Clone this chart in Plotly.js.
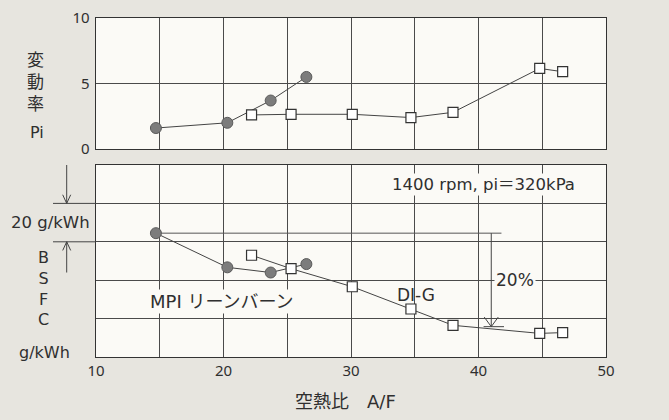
<!DOCTYPE html>
<html>
<head>
<meta charset="utf-8">
<script src="https://cdn.plot.ly/plotly-3.0.1.min.js"></script>
<style>
html,body{margin:0;padding:0;background:#e7e5df;}
#chart{width:669px;height:420px;}
</style>
</head>
<body>
<div id="chart"></div>
<script>
// ---- data ----
const afMpi   = [14.7, 20.3, 23.7, 26.5];
const piMpi   = [1.6, 2.0, 3.7, 5.5];
const bsfcMpi = [64.5, 46.7, 44.0, 48.4];

const afDig   = [22.2, 25.3, 30.1, 34.7, 38.0, 44.8, 46.6];
const piDig   = [2.6, 2.65, 2.65, 2.4, 2.8, 6.15, 5.9];
const bsfcDig = [53.0, 46.0, 36.6, 25.0, 16.5, 12.3, 12.7];

const piTicks  = [0, 5, 10];
const refEndAf = 41.8;   // end of the 20% reference line
const arrowAf  = 41.0;   // x of the 20% arrow
const arrowEnd = 15.8;   // BSFC level where the 20% arrow ends

// ---- layout helpers (pixel -> paper) ----
const W = 669, H = 420, L = 96, R = 63, T = 18, B = 63;
const PW = W - L - R, PH = H - T - B;
const px = x => (x - L) / PW;
const py = y => (H - B - y) / PH;

const txt = '#2f2f2f', grid = '#4a4a4a', plotBg = '#fbfaf6', paperBg = '#e7e5df';
const FONT = '"DejaVu Sans", "Noto Sans CJK JP", sans-serif';
const TICKFONT = '"Noto Sans", "DejaVu Sans", sans-serif';

const lineStyle = {color: '#444', width: 1};
const circ = {symbol: 'circle', size: 11, color: '#7c7c7c', line: {color: '#5a5a5a', width: 1}};
const sq = {symbol: 'square', size: 10, color: '#ffffff', line: {color: '#333', width: 1.2}};

const traces = [
  {x: afMpi, y: piMpi, xaxis: 'x2', yaxis: 'y2', mode: 'lines+markers', line: lineStyle, marker: circ},
  {x: afDig, y: piDig, xaxis: 'x2', yaxis: 'y2', mode: 'lines+markers', line: lineStyle, marker: sq},
  {x: [afMpi[0], refEndAf], y: [bsfcMpi[0], bsfcMpi[0]], xaxis: 'x', yaxis: 'y', mode: 'lines', line: {color: '#555', width: 1}},
  {x: afMpi, y: bsfcMpi, xaxis: 'x', yaxis: 'y', mode: 'lines+markers', line: lineStyle, marker: circ},
  {x: afDig, y: bsfcDig, xaxis: 'x', yaxis: 'y', mode: 'lines+markers', line: lineStyle, marker: sq}
];

const axBase = {
  showline: true, mirror: true, linecolor: '#333', linewidth: 1.3,
  showgrid: true, gridcolor: grid, gridwidth: 1, zeroline: false, ticks: '',
  tickfont: {family: TICKFONT, size: 15, color: txt}
};

const shapes = [];
const annotations = [];

// 20% arrow (vertical line, open head, base tick)
shapes.push({type: 'line', xref: 'x', yref: 'y', x0: arrowAf, x1: arrowAf, y0: bsfcMpi[0], y1: arrowEnd, line: {color: '#444', width: 1}});
shapes.push({type: 'path', xref: 'x', yref: 'y', path: `M ${arrowAf-0.55} ${arrowEnd+5} L ${arrowAf} ${arrowEnd} L ${arrowAf+0.55} ${arrowEnd+5}`, line: {color: '#444', width: 1}});
shapes.push({type: 'line', xref: 'x', yref: 'y', x0: arrowAf-0.6, x1: arrowAf+1.0, y0: arrowEnd, y1: arrowEnd, line: {color: '#444', width: 1}});

// left-margin "20 g/kWh" dimension arrows (between gridlines 80 and 60)
const ax = px(66.7), hw = 4 / PW;
shapes.push({type: 'line', xref: 'paper', yref: 'y', x0: ax, x1: ax, y0: 100, y1: 80, line: {color: '#444', width: 1}});
shapes.push({type: 'path', xref: 'paper', yref: 'y', path: `M ${ax-hw} 84.5 L ${ax} 80 L ${ax+hw} 84.5`, line: {color: '#444', width: 1}});
shapes.push({type: 'line', xref: 'paper', yref: 'y', x0: px(53), x1: 0, y0: 80, y1: 80, line: {color: '#444', width: 1}});
shapes.push({type: 'line', xref: 'paper', yref: 'y', x0: px(53), x1: 0, y0: 60, y1: 60, line: {color: '#444', width: 1}});
shapes.push({type: 'line', xref: 'paper', yref: 'y', x0: ax, x1: ax, y0: 60, y1: 44, line: {color: '#444', width: 1}});
shapes.push({type: 'path', xref: 'paper', yref: 'y', path: `M ${ax-hw} 55.5 L ${ax} 60 L ${ax+hw} 55.5`, line: {color: '#444', width: 1}});

function lab(text, x, y, size, extra) {
  annotations.push(Object.assign({text, xref: 'paper', yref: 'paper', x: px(x), y: py(y),
    xanchor: 'center', yanchor: 'middle', showarrow: false,
    font: {family: FONT, size: size, color: txt}}, extra || {}));
}
lab('変<br>動<br>率', 35, 82, 17);
lab('Pi', 37, 132, 16);
lab('20 g/kWh', 50, 222, 16.5);
lab('B<br>S<br>F<br>C', 43, 288.5, 16);
lab('g/kWh', 44, 352, 16);
lab('空熱比　A/F', 345, 401, 18);
lab('1400 rpm, pi＝320kPa', 483, 185, 16.5, {bgcolor: plotBg});
lab('MPI リーンバーン', 222, 301, 18, {bgcolor: plotBg});
lab('DI-G', 416, 295, 17);
lab('20%', 515, 280, 17, {bgcolor: plotBg});

const layout = {
  width: W, height: H,
  margin: {l: L, r: R, t: T, b: B},
  paper_bgcolor: paperBg, plot_bgcolor: plotBg,
  showlegend: false,
  xaxis: Object.assign({}, axBase, {range: [10, 50], tickmode: 'linear', tick0: 10, dtick: 5,
    labelalias: {'15': ' ', '25': ' ', '35': ' ', '45': ' '}, anchor: 'y', domain: [0, 1]}),
  xaxis2: Object.assign({}, axBase, {range: [10, 50], tickmode: 'linear', tick0: 10, dtick: 5,
    showticklabels: false, anchor: 'y2', matches: 'x'}),
  yaxis: Object.assign({}, axBase, {range: [0, 100], tickmode: 'linear', tick0: 0, dtick: 20,
    showticklabels: false, domain: [0, py(165)], anchor: 'x'}),
  yaxis2: Object.assign({}, axBase, {range: [0, 10], tickmode: 'linear', tick0: piTicks[0], dtick: piTicks[1] - piTicks[0],
    domain: [py(149), 1], anchor: 'x2', ticklabelstandoff: 2}),
  shapes, annotations
};

Plotly.newPlot('chart', traces, layout, {displayModeBar: false, staticPlot: true});
</script>
</body>
</html>
